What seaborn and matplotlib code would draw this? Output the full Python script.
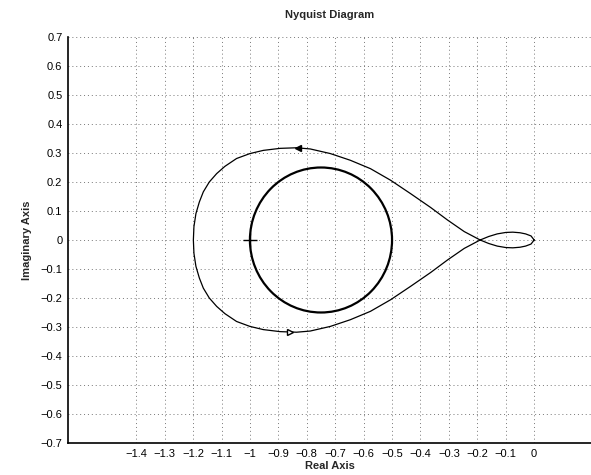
import numpy as np
import pandas as pd
import matplotlib
matplotlib.use("Agg")
import matplotlib.pyplot as plt
from matplotlib.patches import Circle
import seaborn as sns

# ---- data ----
# positive-frequency half of the Nyquist contour (origin -> small loop -> upper branch -> leftmost point)
half_re = [0.0, -0.011, -0.03, -0.05, -0.075, -0.10, -0.13, -0.16, -0.19,
           -0.246, -0.305, -0.364, -0.435, -0.505, -0.576, -0.647, -0.717,
           -0.788, -0.836, -0.894, -0.953, -1.0, -1.047, -1.088, -1.117,
           -1.143, -1.164, -1.178, -1.190, -1.197, -1.199]
half_im = [0.0, -0.014, -0.021, -0.025, -0.027, -0.026, -0.021, -0.012, 0.0,
           0.029, 0.069, 0.112, 0.160, 0.206, 0.246, 0.275, 0.298,
           0.314, 0.318, 0.316, 0.309, 0.298, 0.281, 0.254, 0.229,
           0.200, 0.166, 0.131, 0.091, 0.046, 0.0]

# inner circle (center, radius) and critical point
circle_center = (-0.75, 0.0)
circle_radius = 0.25
crit_re, crit_im = [-1.0], [0.0]

# direction arrows
arrow_re = [-0.83, -0.86]
arrow_im = [0.318, -0.318]

xticks = [-1.4, -1.3, -1.2, -1.1, -1.0, -0.9, -0.8, -0.7, -0.6, -0.5, -0.4, -0.3, -0.2, -0.1, 0.0]
xticklabels = ["-1.4", "-1.3", "-1.2", "-1.1", "-1", "-0.9", "-0.8", "-0.7", "-0.6",
               "-0.5", "-0.4", "-0.3", "-0.2", "-0.1", "0"]
yticks = [0.7, 0.6, 0.5, 0.4, 0.3, 0.2, 0.1, 0.0, -0.1, -0.2, -0.3, -0.4, -0.5, -0.6, -0.7]
yticklabels = ["0.7", "0.6", "0.5", "0.4", "0.3", "0.2", "0.1", "0", "-0.1", "-0.2",
               "-0.3", "-0.4", "-0.5", "-0.6", "-0.7"]

# full contour: positive half then mirrored negative half
full_re = half_re + half_re[::-1]
full_im = half_im + [-v for v in half_im[::-1]]
df = pd.DataFrame({"re": full_re, "im": full_im})

sns.set_style("white")
plt.rcParams["font.family"] = ["Liberation Sans", "DejaVu Sans"]
plt.rcParams["axes.unicode_minus"] = True

fig = plt.figure(figsize=(5.91, 4.75), dpi=100)
ax = fig.add_axes([0.1151, 0.0674, 0.8849, 0.8547])

sns.lineplot(data=df, x="re", y="im", sort=False, estimator=None,
             color="black", linewidth=0.9, ax=ax)

ax.add_patch(Circle(circle_center, circle_radius, fill=False,
                    edgecolor="black", linewidth=1.6, zorder=3))

ax.plot(crit_re, crit_im, marker="+", color="black", markersize=10,
        markeredgewidth=1.0, linestyle="none", zorder=4)

ax.plot(arrow_re[:1], arrow_im[:1], marker="<", color="black", markersize=5,
        linestyle="none", zorder=4)
ax.plot(arrow_re[1:], arrow_im[1:], marker=">", markerfacecolor="white",
        markeredgecolor="black", markersize=5, markeredgewidth=1.0,
        linestyle="none", zorder=4)

ax.set_xlim(-1.64, 0.2)
ax.set_ylim(-0.7, 0.7)
ax.set_xticks(xticks)
ax.set_xticklabels([s.replace("-", "\u2212") for s in xticklabels])
ax.set_yticks(yticks)
ax.set_yticklabels([s.replace("-", "\u2212") for s in yticklabels])

ax.grid(True, linestyle=(0, (1, 3)), color="#777777", linewidth=0.7)
ax.set_axisbelow(True)

for side in ["top", "right"]:
    ax.spines[side].set_visible(False)
for side in ["left", "bottom"]:
    ax.spines[side].set_color("black")
    ax.spines[side].set_linewidth(1.2)

ax.tick_params(axis="both", direction="in", length=4, width=0.8,
               labelsize=8, colors="black", pad=4)

ax.set_xlabel("Real Axis", fontsize=8, fontweight="bold", labelpad=2)
ax.set_ylabel("Imaginary Axis", fontsize=8, fontweight="bold", labelpad=6)
ax.set_title("Nyquist Diagram", fontsize=8, fontweight="bold", pad=14)

fig.savefig("out.png", dpi=100)
